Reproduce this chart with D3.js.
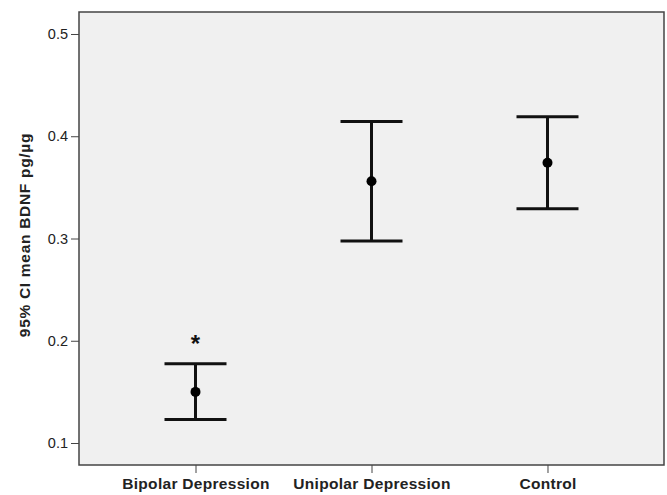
<!DOCTYPE html>
<html>
<head>
<meta charset="utf-8">
<script src="https://cdn.jsdelivr.net/npm/d3@7"></script>
<style>
  body { margin: 0; background: #fff; }
  text { font-family: Arial, "Liberation Sans", sans-serif; }
</style>
</head>
<body>
<div id="chart"></div>
<script>
const groups = ["Bipolar Depression", "Unipolar Depression", "Control"]
const means = [0.150, 0.356, 0.374]
const lower = [0.123, 0.2975, 0.329]
const upper = [0.1775, 0.4145, 0.419]
const marked = [true, false, false]
const yTicks = [0.1, 0.2, 0.3, 0.4, 0.5]

let margin = {top: 12, right: 3, bottom: 30, left: 79}
let W = 667, H = 495
let pxX = W - margin.left - margin.right,
    pxY = H - margin.top - margin.bottom

let svg = d3.select('#chart').append('svg')
    .attr('width', W).attr('height', H)
let g = svg.append('g').attr('transform', `translate(${margin.left},${margin.top})`)

let scX = d3.scalePoint().domain(groups).range([0, pxX]).padding(0.662)
let scY = d3.scaleLinear().domain([0.0785, 0.5215]).range([pxY, 0])

// plot background
g.append('rect')
    .attr('width', pxX).attr('height', pxY)
    .attr('fill', '#f0f0f0')
    .attr('stroke', '#444').attr('stroke-width', 1.5)

// axes
let yAxis = d3.axisLeft(scY).tickValues(yTicks).tickFormat(d3.format('.1f')).tickSize(8).tickPadding(3)
let ya = g.append('g').call(yAxis)
ya.select('.domain').remove()
ya.selectAll('line').attr('stroke', '#444')
ya.selectAll('text').attr('font-size', 14.5).attr('fill', '#222')

let xAxis = d3.axisBottom(scX).tickSize(8).tickPadding(5)
let xa = g.append('g').attr('transform', `translate(0,${pxY})`).call(xAxis)
xa.select('.domain').remove()
xa.selectAll('line').attr('stroke', '#444')
xa.selectAll('text').attr('font-size', 15.5).attr('font-weight', 'bold')
    .attr('letter-spacing', 0.3).attr('fill', '#222')

// y title
svg.append('text')
    .attr('transform', `translate(30,${margin.top + 223}) rotate(-90)`)
    .attr('text-anchor', 'middle')
    .attr('font-size', 15.5).attr('font-weight', 'bold')
    .attr('letter-spacing', 0.7).attr('fill', '#222')
    .text('95% CI mean BDNF pg/µg')

// error bars
let capW = 31
let bars = g.selectAll('.bar').data(groups).enter().append('g')
bars.append('line')
    .attr('x1', d => scX(d)).attr('x2', d => scX(d))
    .attr('y1', (d, i) => scY(upper[i])).attr('y2', (d, i) => scY(lower[i]))
    .attr('stroke', '#111').attr('stroke-width', 3)
bars.append('line')
    .attr('x1', d => scX(d) - capW).attr('x2', d => scX(d) + capW)
    .attr('y1', (d, i) => scY(upper[i])).attr('y2', (d, i) => scY(upper[i]))
    .attr('stroke', '#111').attr('stroke-width', 3)
bars.append('line')
    .attr('x1', d => scX(d) - capW).attr('x2', d => scX(d) + capW)
    .attr('y1', (d, i) => scY(lower[i])).attr('y2', (d, i) => scY(lower[i]))
    .attr('stroke', '#111').attr('stroke-width', 3)
bars.append('circle')
    .attr('cx', d => scX(d)).attr('cy', (d, i) => scY(means[i]))
    .attr('r', 5).attr('fill', '#000')

// significance marker
g.selectAll('.star').data(groups.filter((d, i) => marked[i])).enter()
    .append('text')
    .attr('x', d => scX(d))
    .attr('y', d => scY(upper[groups.indexOf(d)]) - 12)
    .attr('text-anchor', 'middle')
    .attr('font-size', 24).attr('font-weight', 'bold').attr('fill', '#111')
    .text('*')
</script>
</body>
</html>
